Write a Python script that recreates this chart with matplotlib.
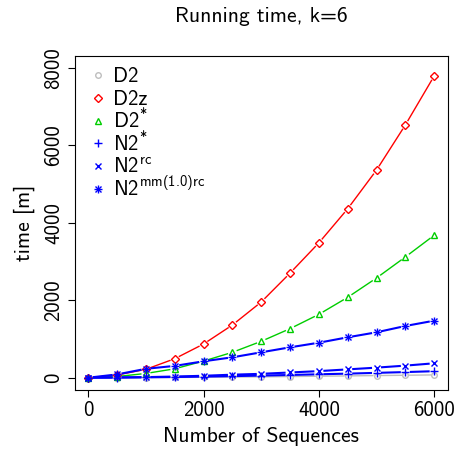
import numpy as np
import matplotlib
matplotlib.use("Agg")
import matplotlib.pyplot as plt

plt.rcParams['font.family'] = ['cmss10', 'DejaVu Sans']
plt.rcParams['mathtext.fontset'] = 'custom'
plt.rcParams['mathtext.rm'] = 'cmss10'
plt.rcParams['mathtext.it'] = 'cmss10'
plt.rcParams['axes.unicode_minus'] = False

# data (minutes)
n_seqs = [0, 500, 1000, 1500, 2000, 2500, 3000, 3500, 4000, 4500, 5000, 5500, 6000]
d2 = [0, 1, 3, 6, 11, 16, 22, 30, 38, 46, 55, 63, 72]
d2z = [0, 70, 217, 491, 871, 1362, 1956, 2703, 3485, 4365, 5365, 6530, 7796]
d2star = [0, 30, 110, 230, 430, 656, 940, 1267, 1637, 2077, 2576, 3119, 3680]
n2star = [0, 4, 10, 18, 28, 40, 55, 70, 88, 105, 125, 145, 168]
n2rc = [0, 6, 15, 30, 50, 78, 100, 135, 170, 215, 260, 312, 372]
n2mm = [0, 85, 230, 305, 424, 527, 656, 785, 904, 1044, 1173, 1336, 1473]
labels = ['D2', 'D2z', r'D2$^{*}$', r'N2$^{*}$', r'N2$^{\mathrm{rc}}$',
          r'N2$^{\mathrm{mm(1.0)rc}}$']

fig = plt.figure(figsize=(4.56, 4.5), dpi=100)
ax = fig.add_axes([74.5 / 456, 1 - 390 / 450, (448 - 74.5) / 456, (390 - 55.5) / 450])
ax.set_xlim(-240, 6240)
ax.set_ylim(-318, 8325)
fig.canvas.draw()


def gapped_line(x, y, color, lw, gap=4.5):
    # R type="b": line segments stop short of the points
    pts = ax.transData.transform(np.column_stack([x, y]))
    xs, ys = [], []
    for (x0, y0), (x1, y1) in zip(pts[:-1], pts[1:]):
        d = np.hypot(x1 - x0, y1 - y0)
        if d <= 2 * gap:
            continue
        ux, uy = (x1 - x0) / d, (y1 - y0) / d
        a = ax.transData.inverted().transform([[x0 + ux * gap, y0 + uy * gap],
                                               [x1 - ux * gap, y1 - uy * gap]])
        xs += [a[0, 0], a[1, 0], np.nan]
        ys += [a[0, 1], a[1, 1], np.nan]
    ax.plot(xs, ys, color=color, lw=lw, solid_capstyle='butt')


grey, red, green, blue = '#BEBEBE', '#FF0000', '#00CD00', '#0000FF'
plus = dict(marker='+', ms=6, mec=blue, mew=1)
cross = dict(marker='x', ms=4.5, mec=blue, mew=1)
series = [
    (d2, grey, 1.0, 3.0, [dict(marker='o', ms=4, mfc='none', mec=grey, mew=1)]),
    (d2z, red, 1.0, 4.5, [dict(marker='D', ms=4.3, mfc='none', mec=red, mew=1)]),
    (d2star, green, 1.0, 4.5, [dict(marker='^', ms=5, mfc='none', mec=green, mew=1)]),
    (n2star, blue, 1.5, 4.5, [plus]),
    (n2rc, blue, 1.5, 4.5, [cross]),
    (n2mm, blue, 1.5, 4.5, [plus, cross]),
]

for i, (vals, col, lw, gap, markers) in enumerate(series):
    gapped_line(n_seqs, vals, col, lw, gap=gap)
    ly = 1 - (75 + 22.8 * i - 55.5) / 334.5
    for m in markers:
        ax.plot(n_seqs, vals, ls='none', **m)
        # legend key (R style, markers only)
        ax.plot([0.063], [ly], ls='none', transform=ax.transAxes, **m)
    ax.text(0.104, ly - 7.0 / 334.5, labels[i], transform=ax.transAxes,
            fontsize=15, va='baseline', ha='left')

ax.set_xticks([0, 2000, 4000, 6000])
ax.set_yticks([0, 2000, 4000, 6000, 8000])
ax.tick_params(labelsize=15, length=5, width=0.8, pad=3)
for lab in ax.get_yticklabels():
    lab.set_rotation(90)
    lab.set_va('center')
for s in ax.spines.values():
    s.set_linewidth(0.8)

ax.set_xlabel('Number of Sequences', fontsize=15.5, labelpad=5)
ax.set_ylabel('time [m]', fontsize=15.5, labelpad=7)
ax.set_title('Running time, k=6', fontsize=15.5, pad=24)

fig.savefig('out.png', dpi=100)
